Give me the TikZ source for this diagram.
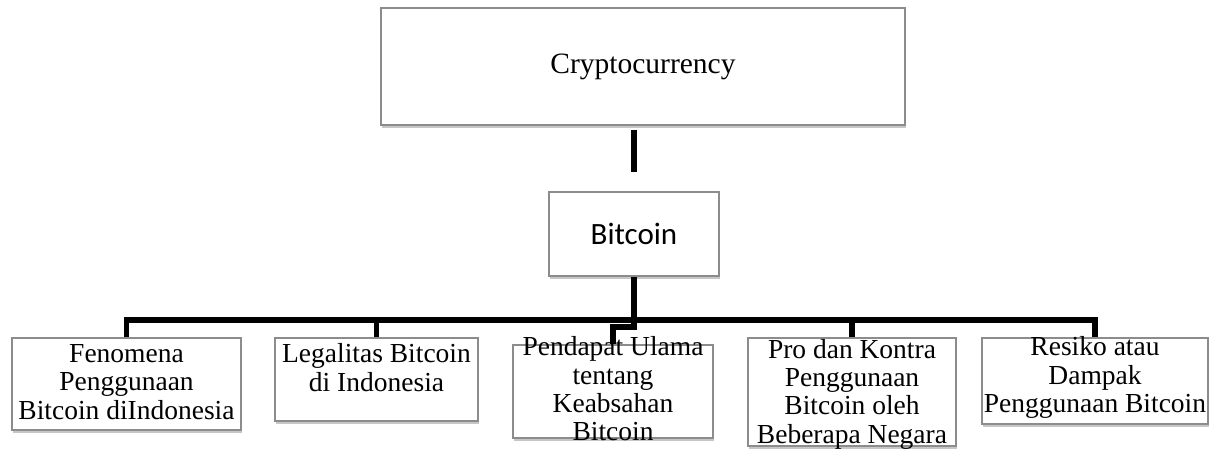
\documentclass[tikz,border=0pt]{standalone}
\usepackage{fontspec}
\setmainfont{Liberation Serif}
\newfontfamily\calibri{Carlito}
\usetikzlibrary{shadows}
\definecolor{boxline}{HTML}{8C8C8C}
\tikzset{
  box/.style={draw=boxline, line width=1.4pt, fill=white, inner sep=0pt,
    drop shadow={shadow xshift=1pt, shadow yshift=-3pt, fill=black, opacity=0.22}},
  txt/.style={align=center, inner sep=0pt, font=\fontsize{27.5}{28.3}\selectfont},
  conn/.style={line width=5.5pt, black, line join=miter}
}
\begin{document}
\begin{tikzpicture}[x=1pt,y=-1pt]
\useasboundingbox (0,0) rectangle (1222,448);
% top boxes
\node[box, minimum width=524, minimum height=117, font=\fontsize{29.5}{30}\selectfont] (crypto) at (643,66.5) {Cryptocurrency};
\node[box, minimum width=170, minimum height=84, font=\calibri\fontsize{31}{32}\selectfont] (bitcoin) at (634,234) {Bitcoin};
% bottom boxes
\node[box, minimum width=229, minimum height=92] (b1) at (126.5,384) {};
\node[txt] (t1) at (126.5,382) {Fenomena\\Penggunaan\\Bitcoin diIndonesia};
\node[box, minimum width=203, minimum height=83] (b2) at (376.5,379.5) {};
\node[txt] (t2) at (376.5,367.5) {Legalitas Bitcoin\\di Indonesia};
\node[box, minimum width=200, minimum height=93] (b3) at (613,391.5) {};
\node[txt] (t3) at (613,389) {Pendapat Ulama\\tentang\\Keabsahan\\Bitcoin};
\node[box, minimum width=208, minimum height=108] (b4) at (852,392) {};
\node[txt] (t4) at (852,394) {Pro dan Kontra\\Penggunaan\\Bitcoin oleh\\Beberapa Negara};
\node[box, minimum width=226, minimum height=86] (b5) at (1095,381) {};
\node[txt] (t5) at (1095,377.5) {Resiko atau\\Dampak\\Penggunaan Bitcoin};
% connectors
\coordinate (bar) at (634,320);
\draw[conn] ([yshift=-4pt]crypto.south -| bitcoin.north) -- ([yshift=19pt]bitcoin.north);
\draw[conn] (bitcoin.south) -- (bar);
\draw[conn] (b1.north) |- (b5.north |- bar) -- (b5.north);
\draw[conn] (b2.north) -- (b2.north |- bar);
\draw[conn] (b4.north) -- (b4.north |- bar);
\draw[conn] (bar) -- ++(0,7) -| (b3.north);
\end{tikzpicture}
\end{document}
